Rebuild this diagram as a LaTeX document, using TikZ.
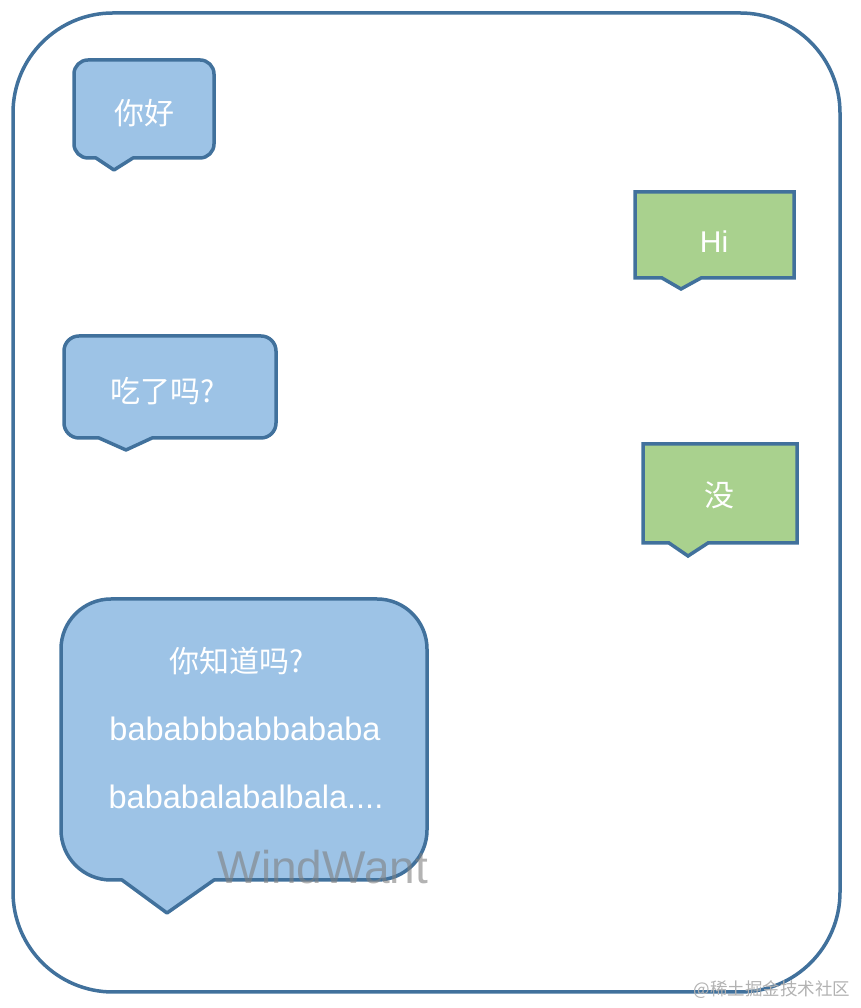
\documentclass[tikz,border=0pt]{standalone}
\usepackage{fontspec}
\setmainfont{Liberation Sans}
\newfontfamily\cjk{Noto Sans CJK SC}
\usepackage{tikz}
\usetikzlibrary{positioning}
\definecolor{edgeblue}{HTML}{41719C}
\definecolor{bubbleblue}{HTML}{9DC3E6}
\definecolor{bubblegreen}{HTML}{A9D18E}
\tikzset{frame/.style={draw=edgeblue, line width=3.5pt, rounded corners=100pt},
	bluebubble/.style={draw=edgeblue, fill=bubbleblue, line width=3.5pt, line join=round},
	greenbubble/.style={draw=edgeblue, fill=bubblegreen, line width=3.5pt, line join=miter},
	bubbletext/.style={text=white, inner sep=0pt, font=\fontsize{30}{36}\selectfont},
	marktext/.style={inner sep=0pt}}

\begin{document}
\begin{tikzpicture}[x=1pt, y=1pt]
		\useasboundingbox (0,0) rectangle (860,1008);
		\draw[frame] (13,16) rectangle (840,995);
		% left bubbles
		\draw[bluebubble] (88,948) -- (200,948) arc[start angle=90, end angle=0, radius=14] -- (214,864) arc[start angle=0, end angle=-90, radius=14] -- (133,850) -- (114,838) -- (96,850) -- (88,850) arc[start angle=270, end angle=180, radius=14] -- (74,934) arc[start angle=180, end angle=90, radius=14] -- cycle;
		\draw[bluebubble] (79,672) -- (261,672) arc[start angle=90, end angle=0, radius=15] -- (276,585) arc[start angle=0, end angle=-90, radius=15] -- (152,570) -- (126,558) -- (99,570) -- (79,570) arc[start angle=270, end angle=180, radius=15] -- (64,657) arc[start angle=180, end angle=90, radius=15] -- cycle;
		\draw[bluebubble] (111,409) -- (377,409) arc[start angle=90, end angle=0, radius=50] -- (427,178) arc[start angle=0, end angle=-90, radius=50] -- (214,128) -- (167,95) -- (122,128) -- (111,128) arc[start angle=270, end angle=180, radius=50] -- (61,359) arc[start angle=180, end angle=90, radius=50] -- cycle;
		% right bubbles
		\draw[greenbubble] (635,816) -- (794,816) -- (794,730) -- (701,730) -- (681,719) -- (662,730) -- (635,730) -- cycle;
		\draw[greenbubble] (643,564) -- (797,564) -- (797,465) -- (708,465) -- (688,452) -- (669,465) -- (643,465) -- cycle;
		% texts
		\node[bubbletext] (hello) at (144,895) {\cjk 你好};
		\node[bubbletext] (hi) at (714,766) {Hi};
		\node[bubbletext] (eaten) at (163,617) {\cjk 吃了吗?};
		\node[bubbletext] (no) at (719,513) {\cjk 没};
		\node[bubbletext] (know) at (237,347) {\cjk 你知道吗?};
		\node[bubbletext, font=\fontsize{32.5}{38}\selectfont] (line1) at (245,279) {bababbbabbababa};
		\node[bubbletext, font=\fontsize{32.5}{38}\selectfont] (line2) at (246,211) {bababalabalbala....};
		% watermarks
		\node[marktext, text=gray, opacity=0.6, font=\fontsize{46}{52}\selectfont] (wind) at (323,141) {WindWant};
		\node[marktext, text=black!30, font=\fontsize{17.5}{22}\selectfont] (juejin) at (772,18) {\cjk @稀土掘金技术社区};
	\end{tikzpicture}
\end{document}
